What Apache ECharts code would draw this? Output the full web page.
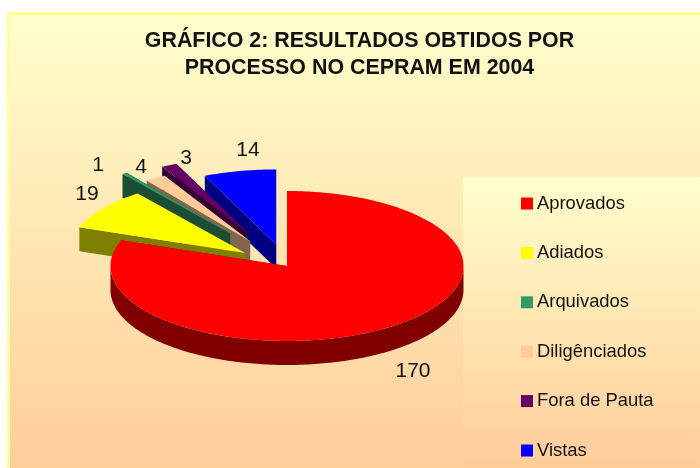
<!DOCTYPE html>
<html>
<head>
<meta charset="utf-8">
<script src="https://cdn.jsdelivr.net/npm/echarts@6/dist/echarts.min.js"></script>
<style>html,body{margin:0;padding:0;background:#fff}#chart{width:700px;height:468px}</style>
</head>
<body>
<div id="chart"></div>
<script>
//categories and values of the chart
var categories = ['Aprovados', 'Adiados', 'Arquivados', 'Diligênciados', 'Fora de Pauta', 'Vistas'];
var values = [170, 19, 1, 4, 3, 14];
//colors of the top of each slice and of its sides
var topColors = ['#FF0000', '#FFFF00', '#339966', '#FFCC99', '#660066', '#0000FF'];
var sideColors = ['#800000', '#808000', '#1A4D33', '#80664D', '#330033', '#000080'];
//how far each slice is pulled out of the pie (share of the radius)
var explode = [0, 0.294, 0.54, 0.39, 0.5, 0.294];
//label offsets from the pie center
var labelOffset = [[126, 105], [-200, -72], [-189, -101], [-146, -99], [-101, -108], [-39, -116]];

//tilted pie geometry
var cx = 287, cy = 266, rx = 176.5, ry = 75, depth = 24;

var total = values.reduce(function (a, b) { return a + b; }, 0);

//point on the ellipse, angle in degrees clockwise from the top
function onEllipse(ox, oy, deg) {
    var a = deg * Math.PI / 180;
    return [ox + rx * Math.sin(a), oy - ry * Math.cos(a)];
}

function down(p) {
    return [p[0], p[1] + depth];
}

function poly(points, color) {
    return { type: 'polygon', shape: { points: points }, style: { fill: color } };
}

//draw one slice from its value
function makeRenderItem(index) {
    return function (params, api) {
        var value = api.value(0);
        var start = 0;
        for (var i = 0; i < index; i++) {
            start += values[i] / total * 360;
        }
        var end = start + value / total * 360;
        var mid = (start + end) / 2 * Math.PI / 180;
        var ox = cx + rx * explode[index] * Math.sin(mid);
        var oy = cy - ry * explode[index] * Math.cos(mid);
        var apex = [ox, oy];
        var first = onEllipse(ox, oy, start);
        var last = onEllipse(ox, oy, end);

        var children = [];
        //the two cut walls
        children.push(poly([apex, last, down(last), down(apex)], sideColors[index]));
        children.push(poly([apex, first, down(first), down(apex)], sideColors[index]));

        //outer wall, only the part that faces the viewer
        var front = [];
        for (var d = Math.max(start, 90); d <= Math.min(end, 270); d += 1) {
            front.push(onEllipse(ox, oy, d));
        }
        if (front.length > 1) {
            children.push(poly(front.concat(front.map(down).reverse()), sideColors[index]));
        }

        //top of the slice
        var top = [apex];
        var steps = Math.max(2, Math.ceil(end - start));
        for (var s = 0; s <= steps; s++) {
            top.push(onEllipse(ox, oy, start + (end - start) * s / steps));
        }
        children.push(poly(top, topColors[index]));

        children.push({
            type: 'text',
            style: {
                text: String(value),
                x: cx + labelOffset[index][0],
                y: cy + labelOffset[index][1],
                align: 'center',
                verticalAlign: 'middle',
                fill: '#111',
                font: '21px "Liberation Sans", Arial, sans-serif'
            }
        });
        return { type: 'group', children: children };
    };
}

var myChart = echarts.init(document.getElementById('chart'), null, { renderer: 'canvas' });

var series = categories.map(function (name, i) {
    return {
        name: name,
        type: 'custom',
        coordinateSystem: 'none',
        renderItem: makeRenderItem(i),
        data: [[values[i]]],
        itemStyle: { color: topColors[i] },
        z: 10 - i,
        animation: false,
        silent: true
    };
});

var option = {
    animation: false,
    title: {
        text: 'GRÁFICO 2: RESULTADOS OBTIDOS POR\nPROCESSO NO CEPRAM EM 2004',
        left: 354.5,
        top: 23,
        textAlign: 'center',
        textStyle: {
            fontFamily: '"Liberation Sans", Arial, sans-serif',
            fontSize: 21.4,
            fontWeight: 'bold',
            lineHeight: 27,
            color: '#111'
        }
    },
    legend: {
        orient: 'vertical',
        left: 521,
        top: 193,
        padding: 0,
        data: categories,
        icon: 'rect',
        itemWidth: 12,
        itemHeight: 12,
        itemGap: 28.4,
        textStyle: {
            fontFamily: '"Liberation Sans", Arial, sans-serif',
            fontSize: 18.4,
            color: '#111',
            padding: [0, 0, 0, -1],
            lineHeight: 21
        },
        selectedMode: false
    },
    graphic: [
        {
            type: 'rect',
            z: -2,
            shape: { x: 8.5, y: 13.5, width: 700, height: 470 },
            style: {
                stroke: '#FFFF99',
                lineWidth: 3,
                fill: new echarts.graphic.LinearGradient(0, 0, 0, 1, [
                    { offset: 0, color: '#FFFFCC' },
                    { offset: 1, color: '#FFCC99' }
                ])
            }
        },
        {
            type: 'rect',
            z: -1,
            shape: { x: 463, y: 177, width: 240, height: 295 },
            style: {
                fill: new echarts.graphic.LinearGradient(0, 0, 0, 1, [
                    { offset: 0, color: '#FFFFCC' },
                    { offset: 1, color: '#FFCC99' }
                ])
            }
        }
    ],
    series: series
};

myChart.setOption(option);
</script>
</body>
</html>
